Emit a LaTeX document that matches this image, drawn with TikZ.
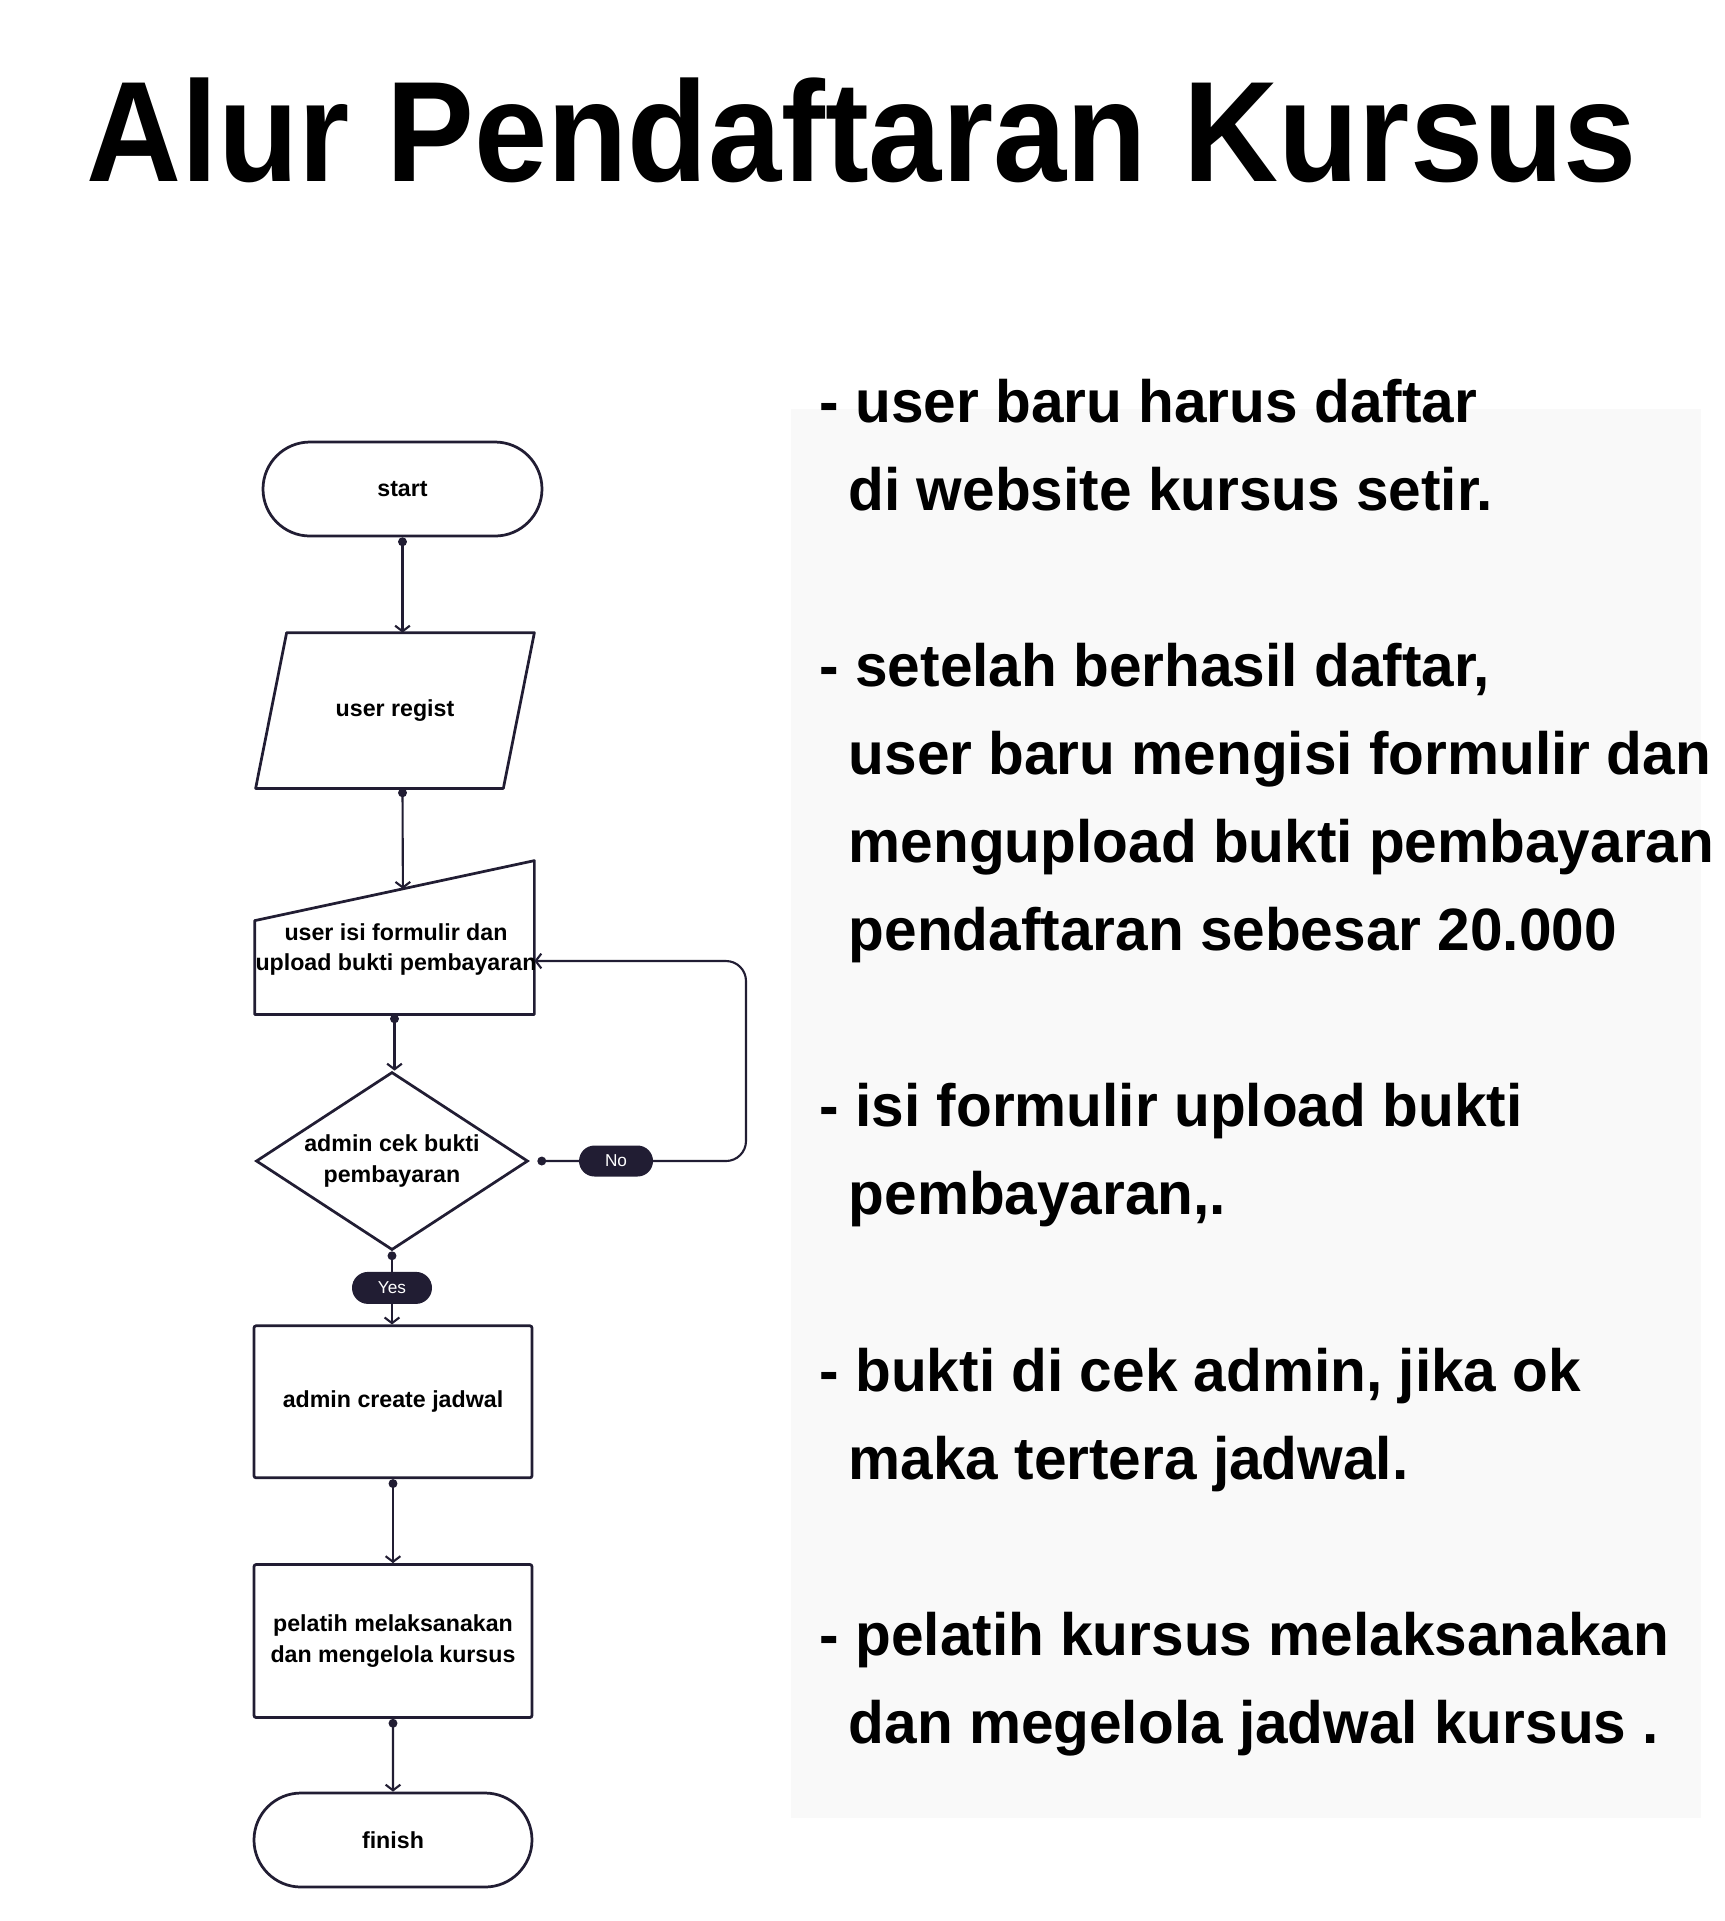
\documentclass[tikz,border=0pt]{standalone}
\usepackage{fontspec}
\setmainfont{Liberation Sans}
\newfontfamily\titlefont[FakeStretch=0.92]{Liberation Sans}
\newfontfamily\notefont[FakeStretch=0.98]{Liberation Sans}
\usepackage{tikz}
\usetikzlibrary{arrows.meta, shapes.geometric, shapes.misc, calc}
\definecolor{ink}{HTML}{211D33}
\definecolor{notebg}{HTML}{F9F9F9}
\tikzset{>={Straight Barb[length=1.6pt, width=4.2pt]}}
\tikzset{
    flow/.style={draw=ink, line width=.6pt, {Circle[length=2.5pt]}->},
    outline/.style={draw=ink, line width=.78pt, line join=round},
    shp/.style={draw=ink, line width=.78pt, inner sep=0pt, align=center, text=black, font=\bfseries\fontsize{6.6}{8.8}\selectfont},
    pill/.style={shp, rounded rectangle},
    box/.style={shp, rectangle, rounded corners=.6pt},
    tag/.style={fill=ink, text=white, rounded rectangle, sharp corners, inner sep=0pt, font=\fontsize{4.9}{5}\selectfont},
    note/.style={anchor=base west, inner sep=0pt, font=\notefont\bfseries\fontsize{17}{20}\selectfont}
}

\begin{document}
\begin{tikzpicture}[y=-1cm]
    \useasboundingbox(0, 0)rectangle(17.25, 19.21);
    \node[anchor=base west, inner sep=0pt, font=\titlefont\bfseries\fontsize{40.7}{48}\selectfont](title)at(.86, 1.817){Alur Pendaftaran Kursus};
    % flowchart
    \node[pill, minimum width=2.79cm, minimum height=.94cm](start)at(4.025, 4.89){start};
    \node[shp, draw=none, minimum width=2.76cm, minimum height=1.53cm](regist)at(3.95, 7.105){user regist};
    \draw[outline]([xshift=.31cm]regist.north west)--(regist.north east)--([xshift=-.31cm]regist.south east)--(regist.south west)--cycle;
    \node[shp, draw=none, minimum width=2.77cm, minimum height=1.51cm](form)at(3.945, 9.375){};
    \draw[outline](form.south west)--(form.south east)--(form.north east)--([yshift=-.6cm]form.north west)--cycle;
    \node[shp, draw=none](formtext)at(3.96, 9.495){user isi formulir dan\\upload bukti pembayaran};
    \coordinate(formtop)at($(form.north east)!.47!([yshift=-.6cm]form.north west)$);
    \node[shp, diamond, aspect=1.53, minimum width=2.72cm, minimum height=1.78cm](cek)at(3.92, 11.61){admin cek bukti\\pembayaran};
    \node[box, minimum width=2.78cm, minimum height=1.52cm](jadwal)at(3.93, 14.018){admin create jadwal};
    \node[box, minimum width=2.78cm, minimum height=1.53cm](kelola)at(3.93, 16.41){pelatih melaksanakan\\dan mengelola kursus};
    \node[pill, minimum width=2.78cm, minimum height=.94cm](finish)at(3.93, 18.4){finish};
    \coordinate(balik)at(7.46, 9.61);
    \draw[flow](start.south)--(start.south |- regist.north);
    \draw[flow](start.south |- regist.south)--(formtop);
    \draw[flow](form.south)--(form.south |- cek.north);
    \draw[flow, shorten <=.08cm, rounded corners=.2cm](cek.east)--(cek.east -| balik)node[tag, pos=.4, minimum width=.74cm, minimum height=.31cm](no){No}--(balik)--(balik -| form.east);
    \draw[flow](cek.south)--(cek.south |- jadwal.north)node[tag, midway, minimum width=.8cm, minimum height=.32cm](yes){Yes};
    \draw[flow](jadwal)--(kelola);
    \draw[flow](kelola)--(finish);
    % keterangan
    \fill[notebg](7.91, 4.09)rectangle(17.01, 18.18);
    \foreach \x/\y/\line[count=\i] in {8.19/4.22/{- user baru harus daftar}, 8.48/5.101/{di website kursus setir.}, 8.19/6.863/{- setelah berhasil daftar,}, 8.48/7.744/{user baru mengisi formulir dan}, 8.48/8.625/{mengupload bukti pembayaran}, 8.48/9.506/{pendaftaran sebesar 20.000}, 8.19/11.268/{- isi formulir upload bukti}, 8.48/12.149/{pembayaran,.}, 8.19/13.911/{- bukti di cek admin, jika ok}, 8.48/14.792/{maka tertera jadwal.}, 8.19/16.554/{- pelatih kursus melaksanakan}, 8.48/17.435/{dan megelola jadwal kursus .}}
        \node[note](note\i)at(\x, \y){\line};
\end{tikzpicture}
\end{document}
